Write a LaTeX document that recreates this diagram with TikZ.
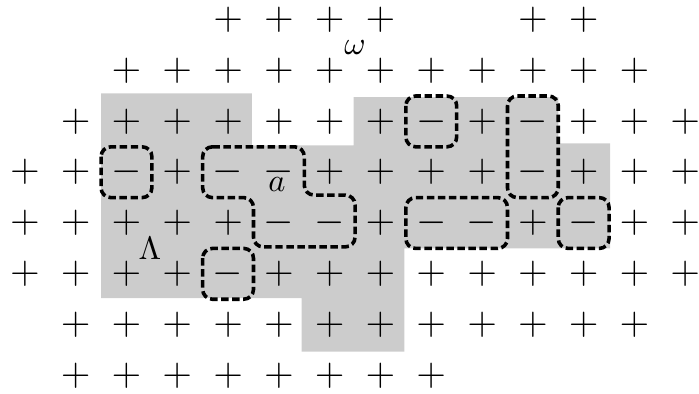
\documentclass[tikz,border=0pt]{standalone}
\usepackage{tikz}

\tikzset{
  sgn/.style={font=\large, inner sep=0pt},
  lbl/.style={inner sep=0pt},
  cluster/.style={line width=1.1pt, dash pattern=on 2.3pt off 1.1pt, rounded corners=3pt},
}

\begin{document}
\begin{tikzpicture}[x=0.55cm, y=-0.55cm]
                \useasboundingbox (-0.49,-0.39) rectangle (13.27,7.36);

                % the region Lambda
                \fill[black!20] (1.5,1.45) -- (4.47,1.45) -- (4.47,2.47) -- (6.47,2.47) -- (6.47,1.52)
                    -- (10.5,1.52) -- (10.5,2.43) -- (11.52,2.43) -- (11.52,4.5) -- (7.47,4.5)
                    -- (7.47,6.53) -- (5.45,6.53) -- (5.45,5.48) -- (1.5,5.48) -- cycle;

                % minus clusters
                \draw[cluster] (1.5,2.5) rectangle (2.5,3.5);
                \draw[cluster] (7.5,1.5) rectangle (8.5,2.5);
                \draw[cluster] (9.5,1.5) rectangle (10.5,3.5);
                \draw[cluster] (7.5,3.5) rectangle (9.5,4.5);
                \draw[cluster] (10.5,3.5) rectangle (11.5,4.5);
                \draw[cluster] (3.5,4.5) rectangle (4.5,5.5);
                \draw[cluster] (3.5,2.5) -- (5.5,2.5) -- (5.5,3.45) -- (6.5,3.45) -- (6.5,4.47)
                    -- (4.5,4.47) -- (4.5,3.5) -- (3.5,3.5) -- cycle;

                % spins
                \foreach \x in {4,5,6,7,10,11} \node[sgn] at (\x,0) (p-\x-0) {$+$};
                \foreach \x in {2,...,12} \node[sgn] at (\x,1) (p-\x-1) {$+$};
                \foreach \x in {1,...,7,9,11,12,13} \node[sgn] at (\x,2) (p-\x-2) {$+$};
                \foreach \x in {8,10} \node[sgn] at (\x,2) (m-\x-2) {$-$};
                \foreach \x in {0,1,3,6,7,8,9,11,12,13} \node[sgn] at (\x,3) (p-\x-3) {$+$};
                \foreach \x in {2,4,5,10} \node[sgn] at (\x,3) (m-\x-3) {$-$};
                \foreach \x in {0,...,4,7,10,12,13} \node[sgn] at (\x,4) (p-\x-4) {$+$};
                \foreach \x in {5,6,8,9,11} \node[sgn] at (\x,4) (m-\x-4) {$-$};
                \foreach \x in {0,...,3,5,6,...,13} \node[sgn] at (\x,5) (p-\x-5) {$+$};
                \node[sgn] at (4,5) (m-4-5) {$-$};
                \foreach \x in {1,...,12} \node[sgn] at (\x,6) (p-\x-6) {$+$};
                \foreach \x in {1,...,8} \node[sgn] at (\x,7) (p-\x-7) {$+$};

                \node[lbl] at (4.96,3.25) (a) {$a$};
                \node[lbl] at (2.46,4.49) (L) {$\Lambda$};
                \node[lbl] at (6.5,0.54) (w) {$\omega$};
            \end{tikzpicture}
\end{document}
